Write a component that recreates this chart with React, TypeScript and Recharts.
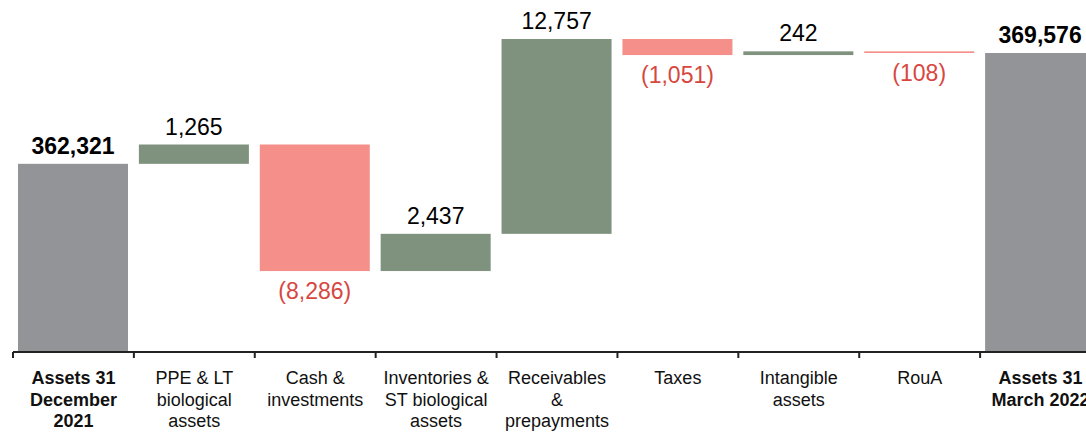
import { BarChart, Bar, XAxis, YAxis, Cell } from 'recharts';

// asset bridge, Dec 2021 -> Mar 2022 (thousands)
const categories = [
  ['Assets 31', 'December', '2021'],
  ['PPE & LT', 'biological', 'assets'],
  ['Cash &', 'investments'],
  ['Inventories &', 'ST biological', 'assets'],
  ['Receivables', '&', 'prepayments'],
  ['Taxes'],
  ['Intangible', 'assets'],
  ['RouA'],
  ['Assets 31', 'March 2022'],
];
const opening = 362321;
const deltas = [1265, -8286, 2437, 12757, -1051, 242, -108];
const closing = 369576;
const axisMin = 350000;
const axisMax = 372000;

const GREY = '#939498';
const GREEN = '#7e927e';
const PINK = '#f48f8a';
const RED_TEXT = '#d7473f';
const FONT = '"Liberation Sans", Arial, sans-serif';

const fmt = (v: number) => Math.abs(v).toLocaleString('en-US');

type Row = { name: string; range: [number, number]; value: number; kind: 'total' | 'up' | 'down' };

const rows: Row[] = [];
rows.push({ name: categories[0].join(' '), range: [axisMin, opening], value: opening, kind: 'total' });
let run = opening;
deltas.forEach((d, i) => {
  const next = run + d;
  rows.push({
    name: categories[i + 1].join(' '),
    range: [Math.min(run, next), Math.max(run, next)],
    value: d,
    kind: d >= 0 ? 'up' : 'down',
  });
  run = next;
});
rows.push({ name: categories[categories.length - 1].join(' '), range: [axisMin, closing], value: closing, kind: 'total' });

const fillFor = (r: Row) => (r.kind === 'total' ? GREY : r.kind === 'up' ? GREEN : PINK);

function BarWithLabel(props: any) {
  const { x, y, width, height, payload } = props;
  const top = Math.min(y, y + height);
  const h = Math.abs(height);
  const r: Row = payload;
  const cx = x + width / 2;
  let label;
  if (r.kind === 'down') {
    label = (
      <text x={cx} y={top + h + 28} textAnchor="middle" fontSize={23} fontFamily={FONT} fill={RED_TEXT}>
        ({fmt(r.value)})
      </text>
    );
  } else {
    label = (
      <text x={cx} y={top - 10} textAnchor="middle" fontSize={23} fontFamily={FONT}
        fontWeight={r.kind === 'total' ? 700 : 400} fill="#000">
        {fmt(r.value)}
      </text>
    );
  }
  return (
    <g>
      <rect x={x} y={top} width={width} height={Math.max(h, 1)} fill={fillFor(r)} />
      {label}
    </g>
  );
}

function CategoryTick(props: any) {
  const { x, y, payload, index, visibleTicksCount, width } = props;
  const last = categories.length - 1;
  const half = payload?.offset ?? (width && visibleTicksCount ? width / visibleTicksCount / 2 : 0);
  const lines = categories[index] ?? [];
  const bold = index === 0 || index === last;
  return (
    <g>
      <line x1={x - half} x2={x - half} y1={y} y2={y + 6} stroke="#222" strokeWidth={2} />
      {index === last && <line x1={x + half} x2={x + half} y1={y} y2={y + 6} stroke="#222" strokeWidth={2} />}
      <text x={x} y={y + 32} textAnchor="middle" fontSize={18} fontFamily={FONT}
        fontWeight={bold ? 700 : 400} fill="#111">
        {lines.map((l, i) => (
          <tspan key={i} x={x} dy={i === 0 ? 0 : 21.5}>{l}</tspan>
        ))}
      </text>
    </g>
  );
}

export default function App() {
  return (
    <div style={{ position: 'fixed', top: 0, left: 0, width: 1086, height: 432, overflow: 'hidden', background: '#fff' }}>
      <BarChart width={1110} height={432} data={rows}
        margin={{ top: 16, right: 9, bottom: 0, left: 13 }} barSize={110}>
        <XAxis dataKey="name" interval={0} height={80} tickSize={0} tickMargin={0}
          tickLine={false} axisLine={{ stroke: '#222', strokeWidth: 2 }} tick={<CategoryTick />} />
        <YAxis hide domain={[axisMin, axisMax]} />
        <Bar dataKey="range" isAnimationActive={false} shape={<BarWithLabel />}>
          {rows.map((r, i) => <Cell key={i} fill={fillFor(r)} />)}
        </Bar>
      </BarChart>
    </div>
  );
}
